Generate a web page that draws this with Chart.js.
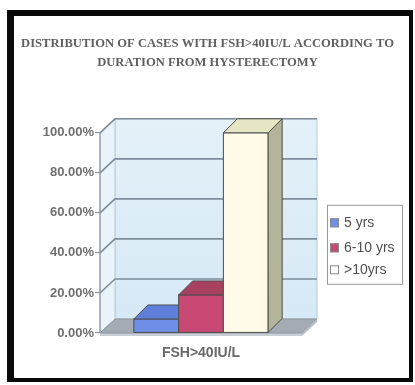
<!DOCTYPE html>
<html>
<head>
<meta charset="utf-8">
<script src="https://cdn.jsdelivr.net/npm/chart.js@4"></script>
<style>
  html, body { margin: 0; padding: 0; background: #ffffff; }
  #wrap { width: 415px; height: 385px; }
</style>
</head>
<body>
<div id="wrap"><canvas id="c" width="415" height="385"></canvas></div>
<script>
// Chart content
const categories = ['FSH>40IU/L'];
const seriesLabels = ['5 yrs', '6-10 yrs', '>10yrs'];
const fiveYrs = [7];
const sixToTenYrs = [19];
const overTenYrs = [100];
const yTicks = [0, 20, 40, 60, 80, 100];

// Face colours for the extruded bars
const frontColors = ['#6f8fe6', '#c84a74', '#fffbe8'];
const topColors = ['#5f7fda', '#a8405f', '#e6e6c4'];
const sideColors = ['#4c68b8', '#8c3050', '#b4b498'];
const legendSwatch = ['#6f8fe6', '#c84a74', '#ffffff'];

// Oblique depth of the walls and the bars
const WALL = { dx: 15, dy: -14 };
const BAR = { dx: 14, dy: -14 };

function poly(ctx, pts, fill, stroke, lw) {
  ctx.beginPath();
  ctx.moveTo(pts[0][0], pts[0][1]);
  for (let i = 1; i < pts.length; i++) ctx.lineTo(pts[i][0], pts[i][1]);
  ctx.closePath();
  if (fill) { ctx.fillStyle = fill; ctx.fill(); }
  if (stroke) { ctx.strokeStyle = stroke; ctx.lineWidth = lw || 1; ctx.stroke(); }
}

const box3d = {
  id: 'box3d',
  beforeDraw(chart) {
    const ctx = chart.ctx;
    const W = chart.width, H = chart.height;
    const a = chart.chartArea;
    const ys = chart.scales.y;
    ctx.save();
    ctx.fillStyle = '#ffffff';
    ctx.fillRect(0, 0, W, H);
    // black frame
    ctx.fillStyle = '#0a0a0a';
    ctx.fillRect(7, 10, 406, 6);
    ctx.fillRect(7, 10, 7, 372);
    ctx.fillRect(409, 10, 4, 372);
    ctx.fillRect(7, 378, 406, 4);

    const L = a.left, R = a.right, T = ys.getPixelForValue(100), B = ys.getPixelForValue(0);
    const dx = WALL.dx, dy = WALL.dy;
    // back wall
    const g = ctx.createLinearGradient(0, T + dy, 0, B + dy);
    g.addColorStop(0, '#e4f1f9');
    g.addColorStop(1, '#d6e9f5');
    poly(ctx, [[L + dx, T + dy], [R + dx, T + dy], [R + dx, B + dy], [L + dx, B + dy]], g, '#b9cad6', 1);
    // side wall
    poly(ctx, [[L, T], [L + dx, T + dy], [L + dx, B + dy], [L, B]], '#e9f4fa', '#b9cad6', 1);
    // floor
    ctx.fillStyle = '#c9ced4';
    ctx.fillRect(L, B, R - L, 3);
    poly(ctx, [[L, B], [R, B], [R + dx, B + dy], [L + dx, B + dy]], '#a4abb3', '#8e959d', 1);
    poly(ctx, [[R, B], [R + dx, B + dy], [R + dx, B + dy + 3], [R, B + 3]], '#b8bec5');
    // gridlines
    ctx.strokeStyle = '#7f8d9b';
    ctx.lineWidth = 1.6;
    yTicks.forEach(v => {
      if (v === 0) return;
      const y = ys.getPixelForValue(v);
      ctx.beginPath();
      ctx.moveTo(L, y);
      ctx.lineTo(L + dx, y + dy);
      ctx.lineTo(R + dx, y + dy);
      ctx.stroke();
    });
    // value axis line
    ctx.strokeStyle = '#8a96a2';
    ctx.lineWidth = 1.2;
    ctx.beginPath();
    ctx.moveTo(L, T);
    ctx.lineTo(L, B);
    ctx.stroke();
    ctx.restore();
  },
  afterDatasetsDraw(chart) {
    // extrude the bars left to right so each front face hides the previous side face
    const ctx = chart.ctx;
    ctx.save();
    chart.data.datasets.forEach((ds, i) => {
      const meta = chart.getDatasetMeta(i);
      meta.data.forEach(el => {
        const p = el.getProps(['x', 'y', 'base', 'width'], true);
        const l = p.x - p.width / 2, r = p.x + p.width / 2;
        const t = Math.min(p.y, p.base), b = Math.max(p.y, p.base);
        poly(ctx, [[l, t], [r, t], [r, b], [l, b]], frontColors[i], '#4e4e4e', 1);
        poly(ctx, [[l, t], [r, t], [r + BAR.dx, t + BAR.dy], [l + BAR.dx, t + BAR.dy]], topColors[i], '#4e4e4e', 1);
        poly(ctx, [[r, t], [r + BAR.dx, t + BAR.dy], [r + BAR.dx, b + BAR.dy], [r, b]], sideColors[i], '#4e4e4e', 1);
      });
    });
    ctx.restore();
  },
  afterDraw(chart) {
    const ctx = chart.ctx;
    const a = chart.chartArea;
    const bx = a.right + 25, by = a.top + 72, bw = 75, bh = 79;
    ctx.save();
    ctx.strokeStyle = '#9a9a9a';
    ctx.lineWidth = 1;
    ctx.strokeRect(bx + 0.5, by + 0.5, bw, bh);
    ctx.font = '14px "Liberation Sans", Arial, sans-serif';
    ctx.textBaseline = 'middle';
    const rows = [18, 43, 65];
    chart.data.datasets.forEach((ds, i) => {
      const y = by + rows[i];
      ctx.fillStyle = legendSwatch[i];
      ctx.fillRect(bx + 3, y - 4.5, 9, 9);
      ctx.strokeStyle = '#8a8a8a';
      ctx.strokeRect(bx + 3.5, y - 4, 8, 8);
      ctx.fillStyle = '#505050';
      ctx.fillText(ds.label, bx + 17, y + 0.5);
    });
    ctx.restore();
  }
};

const datasets = [fiveYrs, sixToTenYrs, overTenYrs].map((vals, i) => ({
  label: seriesLabels[i],
  data: vals,
  backgroundColor: frontColors[i],
  borderColor: '#4e4e4e',
  borderWidth: 1,
  borderSkipped: false,
  barPercentage: 1,
  categoryPercentage: 0.665
}));

new Chart(document.getElementById('c'), {
  type: 'bar',
  data: { labels: categories, datasets },
  plugins: [box3d],
  options: {
    responsive: false,
    animation: false,
    devicePixelRatio: 1,
    layout: { padding: 0 },
    plugins: {
      legend: { display: false },
      tooltip: { enabled: false },
      title: {
        display: true,
        text: ['DISTRIBUTION OF CASES WITH FSH>40IU/L ACCORDING TO', 'DURATION FROM HYSTERECTOMY'],
        color: '#606060',
        font: { family: '"Liberation Serif", "Times New Roman", serif', size: 12.6, weight: 'bold', lineHeight: 1.5 },
        padding: { top: 34, bottom: 61 }
      }
    },
    scales: {
      x: {
        grid: { display: false },
        border: { display: false },
        ticks: {
          color: '#6a6a6a',
          padding: 4,
          font: { family: '"Liberation Sans", Arial, sans-serif', size: 14, weight: 'bold' }
        },
        afterFit(s) { s.height = 52; }
      },
      y: {
        min: 0,
        max: 100,
        afterBuildTicks(s) { s.ticks = yTicks.map(v => ({ value: v })); },
        grid: { drawOnChartArea: false, tickLength: 5, color: '#8a96a2', lineWidth: 1.2 },
        border: { display: false },
        ticks: {
          color: '#707070',
          padding: 1,
          font: { family: '"Liberation Sans", Arial, sans-serif', size: 13, weight: 'bold' },
          callback: v => v.toFixed(2) + '%'
        },
        afterFit(s) { s.width = 100; }
      },
      // reserves the strip on the right that holds the legend box
      side: {
        type: 'linear',
        position: 'right',
        grid: { display: false },
        border: { display: false },
        ticks: { display: false },
        afterFit(s) { s.width = 113; }
      }
    }
  }
});
</script>
</body>
</html>
